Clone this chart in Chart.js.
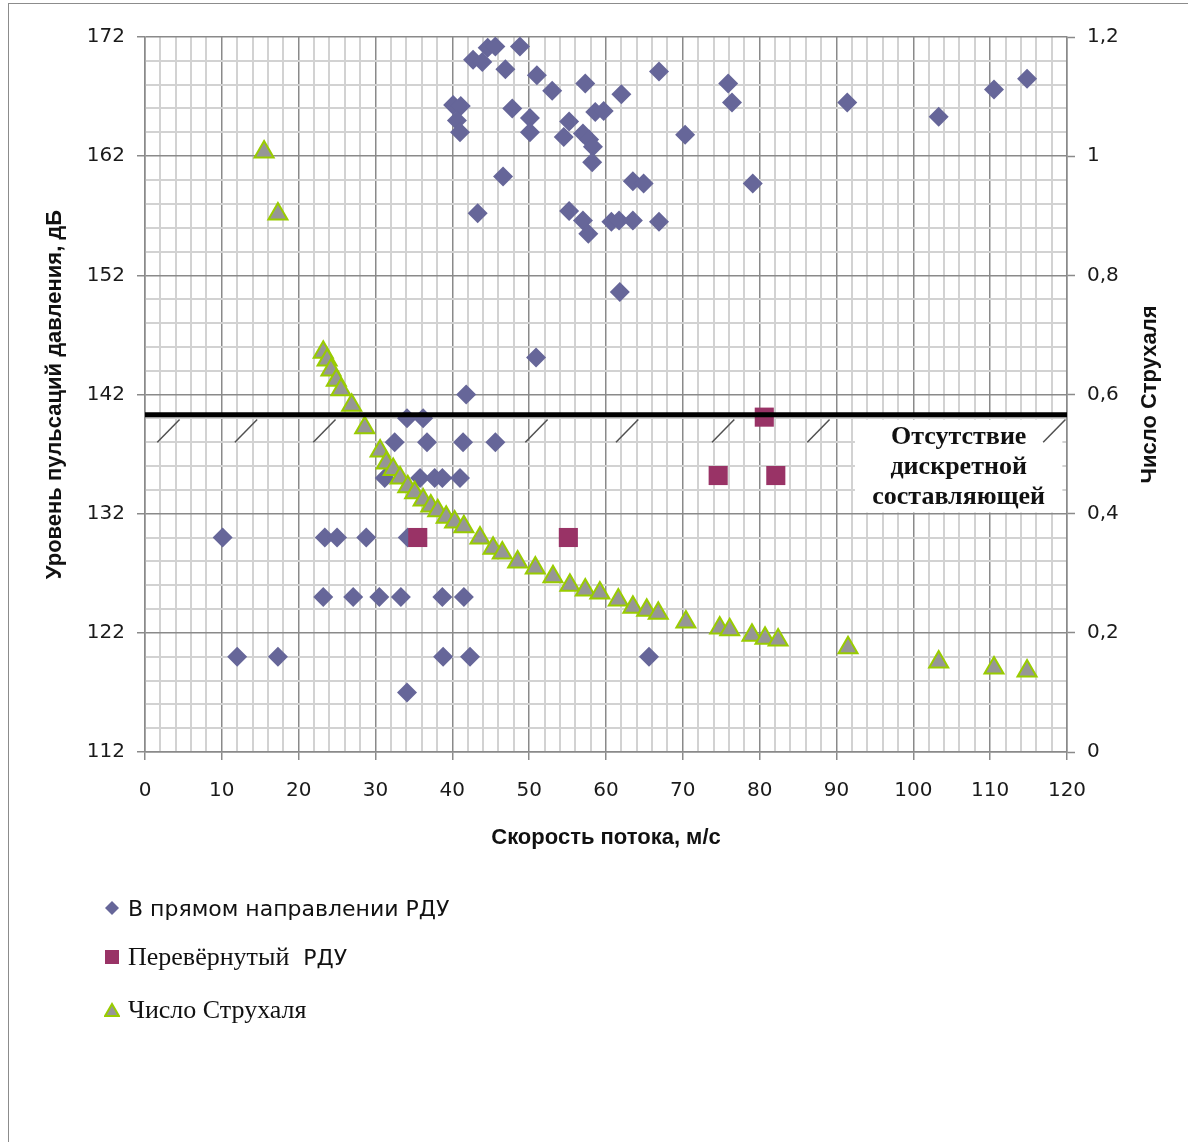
<!DOCTYPE html>
<html lang="ru">
<head>
<meta charset="utf-8">
<title>Уровень пульсаций давления и число Струхаля</title>
<script src="https://cdn.jsdelivr.net/npm/chart.js@4.4.1/dist/chart.umd.min.js"></script>
<style>
    html, body { margin: 0; padding: 0; background: #ffffff; overflow: hidden; }
    #wrap { position: relative; width: 1188px; height: 1142px; }
    #frame {
        position: absolute; left: 8px; top: 3px; width: 1300px; height: 1300px;
        border: 1px solid #8c8c8c; box-sizing: border-box; pointer-events: none;
    }
    #legend { position: absolute; left: 104px; top: 0; }
    .item { position: absolute; left: 0; display: flex; align-items: center; white-space: pre; color: #111; }
    .item svg { margin-right: 8px; }
</style>
</head>
<body>
<div id="wrap">
    <canvas id="chart" width="1188" height="1142"></canvas>
    <div id="frame"></div>
    <div id="legend"></div>
</div>
<script>
// --- data ---
// "В прямом направлении РДУ" (left axis, dB)
const directSpeed = [
    42.7, 43.9, 44.6, 45.6, 48.8, 46.9, 51.0, 40.1, 41.1, 40.6, 41.0, 47.8, 50.1, 50.1,
    46.6, 43.3, 53.0, 57.3, 62.0, 66.9, 75.9, 76.4, 91.4, 103.3, 110.5, 114.8, 55.2, 54.5,
    57.0, 57.8, 58.3, 58.2, 58.6, 59.7, 70.3, 63.5, 64.9, 79.1, 55.2, 57.0, 57.7, 60.7,
    61.7, 63.5, 66.9, 61.8, 50.9,
    41.8, 34.1, 36.2, 32.5, 36.7, 41.4, 45.6, 31.2, 35.8, 37.7, 38.7, 41.0,
    10.1, 23.4, 25.0, 28.8, 34.2,
    23.2, 27.1, 30.5, 33.3, 38.7, 41.5, 12.0, 17.3, 38.8, 42.3, 34.1, 65.6
];
const directLevel = [
    170.1, 169.9, 171.1, 171.2, 171.2, 169.3, 168.8, 166.3, 166.2, 165.0, 164.0, 166.0, 165.2, 164.0,
    160.3, 157.2, 167.5, 168.1, 167.2, 169.1, 168.1, 166.5, 166.5, 165.3, 167.6, 168.5, 164.9, 163.6,
    163.9, 163.4, 162.8, 161.5, 165.7, 165.8, 163.8, 159.9, 159.7, 159.7, 157.4, 156.6, 155.5, 156.5,
    156.6, 156.6, 156.5, 150.6, 145.1,
    142, 140, 140, 138, 138, 138, 138, 135, 135, 135, 135, 135,
    130, 130, 130, 130, 130,
    125, 125, 125, 125, 125, 125, 120, 120, 120, 120, 117, 120
];

// "Перевёрнутый РДУ" (left axis, dB)
const invertedSpeed = [35.5, 55.1, 74.6, 82.1, 80.6];
const invertedLevel = [130, 130, 135.2, 135.2, 140.1];

// "Число Струхаля" (right axis)
const strouhalSpeed = [
    15.5, 17.3,
    23.2, 23.7, 24.2, 24.9, 25.5, 26.9, 28.6, 30.6, 31.4, 32.3, 33.2, 34.2, 35.1, 36.2,
    37.2, 38.1, 39.2, 40.3, 41.5, 43.6, 45.3, 46.5, 48.5, 50.8, 53.1, 55.3, 57.3, 59.2,
    61.6, 63.5, 65.3, 66.8, 70.4, 74.8, 76.1, 79.0, 80.7, 82.4, 91.5, 103.3, 110.5, 114.8
];
const strouhalValue = [
    1.007, 0.903,
    0.671, 0.658, 0.641, 0.624, 0.608, 0.582, 0.544, 0.505, 0.485, 0.474, 0.460, 0.445, 0.435, 0.423,
    0.413, 0.405, 0.394, 0.386, 0.378, 0.359, 0.342, 0.334, 0.319, 0.309, 0.294, 0.280, 0.272, 0.267,
    0.255, 0.243, 0.238, 0.233, 0.218, 0.208, 0.205, 0.196, 0.191, 0.188, 0.175, 0.151, 0.141, 0.136
];

// boundary "no discrete component" (dB) and its hatch marks (speed)
const boundarySpeed = [0, 120];
const boundaryLevel = [140.3, 140.3];
const hatchSpeed = [1.6, 11.7, 21.9, 49.5, 61.3, 73.8, 86.2, 116.9];
const noteLines = ['Отсутствие', 'дискретной', 'составляющей'];

const xTicks = [0, 10, 20, 30, 40, 50, 60, 70, 80, 90, 100, 110, 120];
const yTicks = [112, 122, 132, 142, 152, 162, 172];
const y1Ticks = [0, 0.2, 0.4, 0.6, 0.8, 1, 1.2];

const toPoints = (xs, ys) => xs.map((x, i) => ({ x: x, y: ys[i] }));

const GRID_MAJOR = '#8a8a8a';
const GRID_MINOR = '#d2d2d2';
const TICK_FONT = { family: "'DejaVu Sans', Verdana, sans-serif", size: 20 };
const TITLE_FONT = { family: "'Liberation Sans', Arial, sans-serif", size: 22, weight: 'bold' };

function isMajor(value, list) {
    return list.some(v => Math.abs(v - value) < 1e-6);
}

// hatch marks, note box and right-hand title
const decorPlugin = {
    id: 'decor',
    beforeDatasetsDraw(chart) {
        const { ctx, scales: { x, y } } = chart;
        ctx.save();
        // note box
        const bx0 = x.getPixelForValue(92.4), bx1 = x.getPixelForValue(119.4);
        const by0 = y.getPixelForValue(139.9), by1 = y.getPixelForValue(132.1);
        ctx.fillStyle = '#ffffff';
        ctx.fillRect(bx0, by0, bx1 - bx0, by1 - by0);
        // hatches
        ctx.strokeStyle = '#505050';
        ctx.lineWidth = 1.5;
        hatchSpeed.forEach(h => {
            ctx.beginPath();
            ctx.moveTo(x.getPixelForValue(h), y.getPixelForValue(138.0));
            ctx.lineTo(x.getPixelForValue(h + 2.9), y.getPixelForValue(139.9));
            ctx.stroke();
        });
        // note text
        ctx.fillStyle = '#111111';
        ctx.font = "bold 26px 'Liberation Serif', 'Times New Roman', serif";
        ctx.textAlign = 'center';
        ctx.textBaseline = 'middle';
        const cx = x.getPixelForValue(105.9);
        noteLines.forEach((t, i) => {
            ctx.fillText(t, cx, y.getPixelForValue(138.4 - i * 2.5));
        });
        ctx.restore();
    },
    afterDraw(chart) {
        const { ctx, chartArea } = chart;
        ctx.save();
        ctx.translate(1150, (chartArea.top + chartArea.bottom) / 2);
        ctx.rotate(-Math.PI / 2);
        ctx.font = "bold 22px 'Liberation Sans', Arial, sans-serif";
        ctx.fillStyle = '#111111';
        ctx.textAlign = 'center';
        ctx.textBaseline = 'middle';
        ctx.fillText('Число Струхаля', 0, 0);
        ctx.restore();
    }
};

const chart = new Chart(document.getElementById('chart'), {
    type: 'scatter',
    data: {
        datasets: [
            {
                label: 'В прямом направлении РДУ',
                data: toPoints(directSpeed, directLevel),
                yAxisID: 'y',
                pointStyle: 'rectRot',
                pointRadius: 10,
                backgroundColor: '#666699',
                borderColor: '#666699',
                borderWidth: 0,
                order: 3
            },
            {
                label: 'Перевёрнутый  РДУ',
                data: toPoints(invertedSpeed, invertedLevel),
                yAxisID: 'y',
                pointStyle: 'rect',
                pointRadius: 13.5,
                backgroundColor: '#993366',
                borderColor: '#993366',
                borderWidth: 0,
                order: 1
            },
            {
                label: 'Число Струхаля',
                data: toPoints(strouhalSpeed, strouhalValue),
                yAxisID: 'y1',
                pointStyle: 'triangle',
                pointRadius: 11,
                backgroundColor: '#969696',
                borderColor: '#99cc00',
                borderWidth: 2,
                order: 2
            },
            {
                label: 'boundary',
                type: 'line',
                data: toPoints(boundarySpeed, boundaryLevel),
                yAxisID: 'y',
                borderColor: '#000000',
                borderWidth: 5,
                pointRadius: 0,
                fill: false,
                order: 0
            }
        ]
    },
    options: {
        responsive: false,
        animation: false,
        events: [],
        layout: { padding: { top: 37, left: 0, right: 0, bottom: 280 } },
        plugins: {
            legend: { display: false },
            tooltip: { enabled: false }
        },
        scales: {
            x: {
                type: 'linear',
                min: 0,
                max: 120,
                afterFit(scale) { scale.height = 110; },
                ticks: {
                    stepSize: 2,
                    autoSkip: false,
                    maxRotation: 0,
                    padding: 19,
                    color: '#1a1a1a',
                    font: TICK_FONT,
                    callback: v => isMajor(v, xTicks) ? String(Math.round(v)) : ''
                },
                grid: {
                    color: c => isMajor(c.tick.value, xTicks) ? GRID_MAJOR : GRID_MINOR,
                    lineWidth: c => isMajor(c.tick.value, xTicks) ? 1.5 : 2,
                    tickColor: c => isMajor(c.tick.value, xTicks) ? GRID_MAJOR : 'rgba(0,0,0,0)',
                    tickLength: 8,
                    tickWidth: 1.5
                },
                border: { color: GRID_MAJOR, width: 1.5 },
                title: {
                    display: true,
                    text: 'Скорость потока, м/с',
                    color: '#111111',
                    font: TITLE_FONT,
                    padding: { top: 0, bottom: 11 }
                }
            },
            y: {
                type: 'linear',
                position: 'left',
                min: 112,
                max: 172,
                afterFit(scale) { scale.width = 145; },
                ticks: {
                    stepSize: 2,
                    autoSkip: false,
                    padding: 12,
                    color: '#1a1a1a',
                    font: TICK_FONT,
                    callback: v => isMajor(v, yTicks) ? String(Math.round(v)) : ''
                },
                grid: {
                    color: c => isMajor(c.tick.value, yTicks) ? GRID_MAJOR : GRID_MINOR,
                    lineWidth: c => isMajor(c.tick.value, yTicks) ? 1.5 : 2,
                    tickColor: c => isMajor(c.tick.value, yTicks) ? GRID_MAJOR : 'rgba(0,0,0,0)',
                    tickLength: 8,
                    tickWidth: 1.5
                },
                border: { color: GRID_MAJOR, width: 1.5 },
                title: {
                    display: true,
                    text: 'Уровень пульсаций давления, дБ',
                    color: '#111111',
                    font: TITLE_FONT,
                    padding: { top: 42, bottom: 0 }
                }
            },
            y1: {
                type: 'linear',
                position: 'right',
                min: 0,
                max: 1.2,
                afterFit(scale) { scale.width = 121; },
                ticks: {
                    stepSize: 0.2,
                    autoSkip: false,
                    padding: 12,
                    color: '#1a1a1a',
                    font: TICK_FONT,
                    callback: v => String(+v.toFixed(1)).replace('.', ',')
                },
                grid: {
                    drawOnChartArea: false,
                    color: GRID_MAJOR,
                    tickLength: 8,
                    tickWidth: 1.5
                },
                border: { color: GRID_MAJOR, width: 1.5 }
            }
        }
    },
    plugins: [decorPlugin]
});

// HTML legend (mixed fonts as in the original)
const SANS_LEGEND = "22px 'DejaVu Sans', Verdana, sans-serif";
const SERIF_LEGEND = "26px 'Liberation Serif', 'Times New Roman', serif";
const legendItems = [
    { ds: 0, top: 893, parts: [['В прямом направлении РДУ', SANS_LEGEND]] },
    { ds: 1, top: 942, parts: [['Перевёрнутый', SERIF_LEGEND], ['  РДУ', SANS_LEGEND]] },
    { ds: 2, top: 995, parts: [['Число Струхаля', SERIF_LEGEND]] }
];

function markerSvg(ds) {
    const fill = ds.backgroundColor, stroke = ds.borderColor;
    let shape;
    if (ds.pointStyle === 'rectRot') {
        shape = `<polygon points="8,1 15,8 8,15 1,8" fill="${fill}"/>`;
    } else if (ds.pointStyle === 'rect') {
        shape = `<rect x="1" y="1" width="14" height="14" fill="${fill}"/>`;
    } else {
        shape = `<polygon points="8,2 15,14 1,14" fill="${fill}" stroke="${stroke}" stroke-width="2"/>`;
    }
    return `<svg width="16" height="16" viewBox="0 0 16 16">${shape}</svg>`;
}

const legendEl = document.getElementById('legend');
legendItems.forEach(item => {
    const ds = chart.data.datasets[item.ds];
    const div = document.createElement('div');
    div.className = 'item';
    div.style.top = item.top + 'px';
    div.style.height = '30px';
    let html = markerSvg(ds);
    item.parts.forEach(([text, font]) => {
        html += `<span style="font:${font}">${text}</span>`;
    });
    div.innerHTML = html;
    legendEl.appendChild(div);
});
</script>
</body>
</html>
